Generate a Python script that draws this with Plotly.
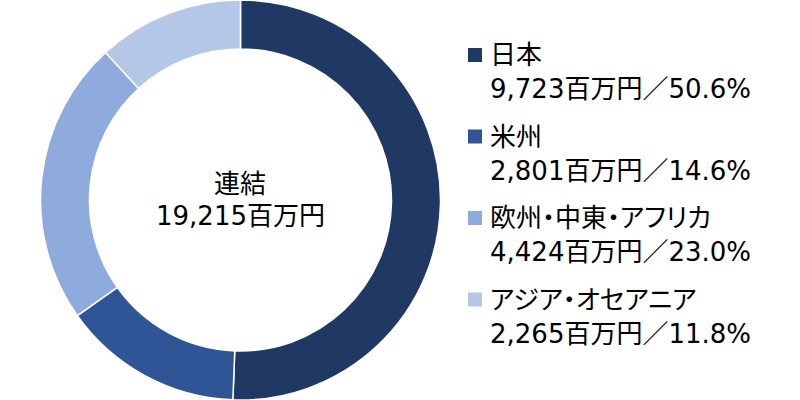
import plotly.graph_objects as go

regions = ["日本", "米州", "欧州・中東・アフリカ", "アジア・オセアニア"]
values = [9723, 2801, 4424, 2265]
shares = [50.6, 14.6, 23.0, 11.8]
colors = ["#203864", "#2F5597", "#8FAADC", "#B4C7E7"]
total_label = "連結"
total_value = 19215
unit = "百万円"

W, H = 800, 400
FONT = "DejaVu Sans, Noto Sans CJK JP, sans-serif"
FS = 26

fig = go.Figure()
fig.add_trace(go.Pie(
    labels=regions,
    values=values,
    hole=0.755,
    sort=False,
    direction="clockwise",
    rotation=0,
    marker=dict(colors=colors, line=dict(color="white", width=1.5)),
    textinfo="none",
    hoverinfo="label+value+percent",
    domain=dict(x=[40 / W, 441 / W], y=[0, 1]),
    showlegend=False,
))

annotations = [
    dict(x=240.5 / W, y=1 - 184 / H, xref="paper", yref="paper",
         text=total_label, showarrow=False, xanchor="center", yanchor="middle",
         font=dict(family=FONT, size=FS, color="#000000")),
    dict(x=240.5 / W, y=1 - 216 / H, xref="paper", yref="paper",
         text=f"{total_value:,}{unit}", showarrow=False, xanchor="center", yanchor="middle",
         font=dict(family=FONT, size=FS, color="#000000")),
]
shapes = []
for i, (name, v, s, c) in enumerate(zip(regions, values, shares, colors)):
    yc = 55 + 81.5 * i
    shapes.append(dict(type="rect", xref="paper", yref="paper",
                       x0=468 / W, x1=482 / W, y0=1 - (yc + 7) / H, y1=1 - (yc - 7) / H,
                       fillcolor=c, line=dict(width=0)))
    annotations.append(dict(x=488 / W, y=1 - yc / H, xref="paper", yref="paper",
                            text=name, showarrow=False, xanchor="left", yanchor="middle",
                            align="left",
                            font=dict(family=FONT, size=FS, color="#000000")))
    annotations.append(dict(x=488 / W, y=1 - (yc + 34) / H, xref="paper", yref="paper",
                            text=f"{v:,}{unit}／{s:.1f}%", showarrow=False, xanchor="left",
                            yanchor="middle", align="left",
                            font=dict(family=FONT, size=FS, color="#000000")))

fig.update_layout(
    width=W, height=H,
    margin=dict(l=0, r=0, t=0, b=0),
    paper_bgcolor="white", plot_bgcolor="white",
    annotations=annotations, shapes=shapes,
)

post = """
document.body.style.margin = '0';
var gd = document.getElementById('{plot_id}');
gd.querySelectorAll('.annotation-text').forEach(function (t) {
  if (t.textContent.indexOf('／') < 0 && /[ア-ン・]/.test(t.textContent)) {
    t.style.fontFeatureSettings = '"palt"';
  }
});
"""
fig.write_html("out.html", post_script=post, config={"displayModeBar": False})
